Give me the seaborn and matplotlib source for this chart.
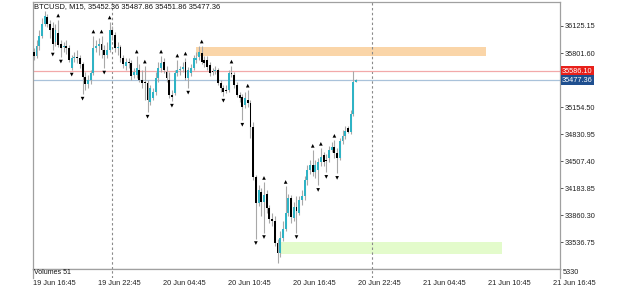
import numpy as np
import pandas as pd
import matplotlib
matplotlib.use("Agg")
import matplotlib.pyplot as plt
import matplotlib.transforms as mtransforms
from matplotlib.patches import Rectangle
import seaborn as sns

# ---------------- data ----------------
opens = [35813, 35765, 35885, 36005, 36149, 36233, 36149, 36101, 35933, 36041,
         35909, 35873, 35885, 35861, 35621, 35741, 35753, 35741, 35669, 35513,
         35429, 35477, 35561, 35861, 35885, 35909, 35837, 35777, 35837, 36077,
         36017, 35861, 35873, 35741, 35645, 35693, 35681, 35537, 35537, 35597,
         35477, 35453, 35441, 35213, 35261, 35333, 35501, 35621, 35693, 35573,
         35477, 35297, 35321, 35561, 35597, 35609, 35693, 35501, 35561, 35621,
         35717, 35753, 35801, 35717, 35717, 35657, 35585, 35585, 35597, 35441,
         35381, 35357, 35357, 35561, 35537, 35417, 35297, 35273, 35177, 35237,
         35201, 34913, 34313, 34001, 34133, 34013, 34109, 33941, 33821, 33797,
         33533, 33413, 33593, 33701, 33893, 34061, 33833, 33953, 33893, 34037,
         34085, 34277, 34397, 34457, 34373, 34397, 34493, 34577, 34517, 34541,
         34637, 34673, 34601, 34541, 34745, 34805, 34901, 34853, 35069, 35452.36]
closes = [35765, 35885, 36005, 36149, 36245, 36149, 36077, 35909, 36077, 35897,
          35861, 35885, 35861, 35717, 35741, 35753, 35741, 35669, 35513, 35429,
          35477, 35561, 35861, 35885, 35909, 35837, 35777, 35837, 36077, 36017,
          35861, 35873, 35741, 35669, 35693, 35681, 35525, 35573, 35621, 35477,
          35441, 35445, 35237, 35381, 35333, 35501, 35621, 35681, 35597, 35501,
          35297, 35273, 35561, 35597, 35609, 35633, 35501, 35597, 35621, 35741,
          35741, 35813, 35693, 35681, 35633, 35561, 35580, 35597, 35441, 35381,
          35333, 35350, 35561, 35555, 35417, 35297, 35261, 35153, 35261, 35201,
          34913, 34313, 34001, 34157, 34013, 34097, 33941, 33821, 33797, 33533,
          33413, 33593, 33701, 33893, 34061, 33845, 33953, 33917, 34037, 34085,
          34277, 34397, 34457, 34373, 34457, 34493, 34553, 34493, 34510, 34637,
          34673, 34601, 34541, 34745, 34805, 34865, 34853, 35069, 35453, 35477.36]
highs = [35861, 35957, 36077, 36221, 36305, 36269, 36197, 36173, 36149, 36197,
         35957, 35933, 35957, 35897, 35777, 35813, 35837, 35777, 35693, 35573,
         35537, 35597, 36005, 35957, 35981, 36005, 35897, 35933, 36173, 36125,
         36053, 35933, 35897, 35777, 35741, 35741, 35717, 35621, 35765, 35669,
         35597, 35645, 35477, 35417, 35381, 35573, 35693, 35765, 35741, 35645,
         35573, 35357, 35597, 35717, 35645, 35693, 35741, 35633, 35669, 35777,
         35813, 35885, 35885, 35765, 35765, 35693, 35621, 35645, 35621, 35477,
         35417, 35417, 35597, 35645, 35573, 35453, 35333, 35309, 35333, 35357,
         35237, 34973, 34337, 34217, 34181, 34253, 34157, 33977, 33893, 33857,
         33581, 33677, 33797, 34205, 34109, 34097, 34013, 34085, 34085, 34157,
         34325, 34457, 34517, 34637, 34517, 34541, 34661, 34613, 34589, 34685,
         34733, 34757, 34661, 34781, 34877, 34925, 34925, 35117, 35586.10, 35487.86]
lows = [35717, 35741, 35837, 35981, 36125, 36113, 35981, 35837, 35885, 35873,
        35753, 35813, 35789, 35693, 35597, 35693, 35681, 35621, 35309, 35357,
        35381, 35429, 35537, 35813, 35777, 35741, 35621, 35741, 35813, 35957,
        35813, 35777, 35693, 35621, 35597, 35621, 35477, 35501, 35501, 35453,
        35381, 35237, 35093, 35177, 35237, 35297, 35453, 35573, 35561, 35453,
        35261, 35225, 35297, 35525, 35537, 35573, 35477, 35381, 35525, 35597,
        35681, 35717, 35669, 35633, 35597, 35525, 35537, 35549, 35417, 35333,
        35285, 35321, 35333, 35513, 35381, 35273, 35213, 34997, 35141, 35153,
        34781, 34277, 33581, 33965, 33857, 33653, 33893, 33773, 33737, 33497,
        33293, 33365, 33557, 33677, 33857, 33773, 33797, 33653, 33869, 33977,
        34037, 34217, 34349, 34325, 34301, 34217, 34445, 34445, 34373, 34493,
        34613, 34541, 34361, 34517, 34709, 34769, 34841, 34829, 35045, 35451.86]

fractal_up_idx = [9, 22, 25, 28, 38, 41, 47, 53, 56, 62, 73, 79, 85, 93, 103, 106, 111]
fractal_dn_idx = [7, 10, 14, 18, 26, 42, 51, 57, 70, 77, 82, 85, 97, 105, 108, 112]

price_ticks = [36125.15, 35801.60, 35154.50, 34830.95, 34507.40, 34183.85, 33860.30, 33536.75]
time_labels = ["19 Jun 16:45", "19 Jun 22:45", "20 Jun 04:45", "20 Jun 10:45", "20 Jun 16:45",
               "20 Jun 22:45", "21 Jun 04:45", "21 Jun 10:45", "21 Jun 16:45"]
time_label_idx = [0, 24, 48, 72, 96, 120, 144, 168, 192]
day_separators = [29, 125]

supply_zone = (60, 167, 35769, 35870)   # x0, x1, y0, y1
demand_zone = (91, 173, 33401, 33545)
ask_price = 35586.10
bid_price = 35477.36
title = "BTCUSD, M15, 35452.36 35487.86 35451.86 35477.36"
volume_label = "Volumes 51"
volume_max_label = "5330"

df = pd.DataFrame({"open": opens, "close": closes, "high": highs, "low": lows})
df["idx"] = np.arange(len(df))
df["bull"] = df["close"] >= df["open"]

# ---------------- figure ----------------
sns.set_style("white")
plt.rcParams["font.family"] = ["Liberation Sans", "DejaVu Sans"]

W, H = 625, 289
fig = plt.figure(figsize=(W / 100, H / 100), dpi=100)
L, R, T, B = 33, 560, 2, 268.5
ax = fig.add_axes([L / W, 1 - B / H, (R - L) / W, (B - T) / H])
axv = fig.add_axes([L / W, 1 - 278 / H, (R - L) / W, (278 - B) / H], sharex=ax)

xmin, xmax = -0.3, -0.3 + (R - L) / 2.708
ax.set_xlim(xmin, xmax)
ax.set_ylim(33223, 36412)

frame_col = "#a0a0a0"
for a in (ax, axv):
    for s in a.spines.values():
        s.set_color(frame_col)
        s.set_linewidth(0.9)
axv.spines["bottom"].set_visible(False)

# zones
for (x0, x1, y0, y1), col in [(supply_zone, "#fad5a8"), (demand_zone, "#e3fbcb")]:
    ax.add_patch(Rectangle((x0, y0), x1 - x0, y1 - y0, facecolor=col, edgecolor="none", zorder=1))

# price lines
ax.axhline(ask_price, color="#f2a9a9", lw=0.9, zorder=2)
ax.axhline(bid_price, color="#a9c2da", lw=0.9, zorder=2)

# day separators
for d in day_separators:
    ax.axvline(d, color="#8a8a8a", lw=0.8, ls=(0, (2.2, 2.2)), zorder=1.5)
    axv.axvline(d, color="#8a8a8a", lw=0.8, ls=(0, (2.2, 2.2)), zorder=1.5)

# wicks
ax.vlines(df["idx"], df["low"], df["high"], color="#a8a8a8", lw=0.8, zorder=3)
# bodies
body_h = np.maximum((df["close"] - df["open"]).abs(), 10)
body_b = np.minimum(df["open"], df["close"])
colors = np.where(df["bull"], "#2fb3c5", "#000000")
ax.bar(df["idx"], body_h, bottom=body_b, width=0.7, color=colors, linewidth=0, zorder=4)

# fractals (seaborn scatter)
up_tr = mtransforms.offset_copy(ax.transData, fig=fig, x=0, y=4.5, units="dots")
dn_tr = mtransforms.offset_copy(ax.transData, fig=fig, x=0, y=-4.5, units="dots")
fu = pd.DataFrame({"idx": fractal_up_idx, "price": [highs[i] for i in fractal_up_idx]})
fd = pd.DataFrame({"idx": fractal_dn_idx, "price": [lows[i] for i in fractal_dn_idx]})
sns.scatterplot(data=fu, x="idx", y="price", marker="^", s=7, color="black",
                edgecolor="none", ax=ax, transform=up_tr, zorder=5, legend=False)
sns.scatterplot(data=fd, x="idx", y="price", marker="v", s=7, color="black",
                edgecolor="none", ax=ax, transform=dn_tr, zorder=5, legend=False)
ax.set_xlabel("")
ax.set_ylabel("")

# right price axis
ax.yaxis.tick_right()
ax.set_yticks(price_ticks)
ax.set_yticklabels([f"{p:.2f}" for p in price_ticks])
ax.tick_params(axis="y", direction="out", length=2.5, width=0.7, color="#555555",
               labelsize=5.3, labelcolor="#222222", pad=1)
ax.tick_params(axis="x", bottom=False, labelbottom=False)
axv.tick_params(axis="both", left=False, right=False, bottom=False,
                labelleft=False, labelbottom=False)
axv.set_yticks([])

# price labels on the right
ytr = mtransforms.blended_transform_factory(ax.transAxes, ax.transData)
for val, col in [(ask_price, "#e8201a"), (bid_price, "#1f4f8f")]:
    ax.text(1.004, val, f"{val:.2f}", transform=ytr, ha="left", va="center",
            fontsize=5.3, color="white", zorder=10, clip_on=False,
            bbox=dict(boxstyle="square,pad=0.2", facecolor=col, edgecolor="none"))

# title & volume texts
fig.text(34 / W, 1 - 6.5 / H, title, ha="left", va="center", fontsize=5.4, color="#111111")
fig.text(34 / W, 1 - 273 / H, volume_label, ha="left", va="center", fontsize=5.0, color="#111111")
fig.text(563 / W, 1 - 273 / H, volume_max_label, ha="left", va="center", fontsize=5.3, color="#222222")

# time labels
xtr = mtransforms.blended_transform_factory(ax.transData, fig.transFigure)
for lab, i in zip(time_labels, time_label_idx):
    ax.text(i - 0.3, 1 - 283.5 / H, lab, transform=xtr, ha="left", va="center",
            fontsize=5.3, color="#222222", clip_on=False)

fig.savefig("out.png", dpi=100, facecolor="white")
